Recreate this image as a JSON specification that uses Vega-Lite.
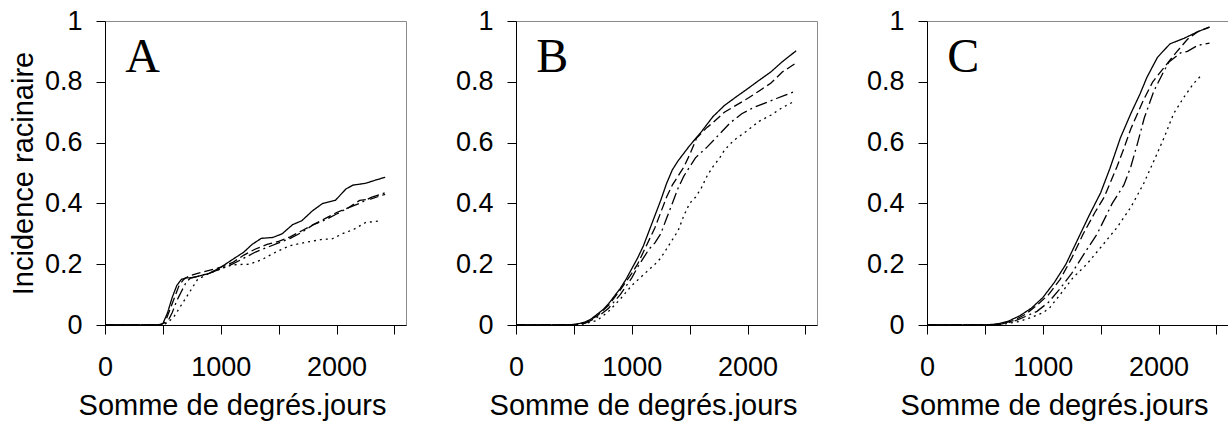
{
  "$schema": "https://vega.github.io/schema/vega-lite/v6.json",
  "background": "white",
  "padding": {"left": 8, "top": 6, "right": 0, "bottom": 0},
  "spacing": 47,
  "config": {
    "view": {"stroke": "#8a8a8a", "strokeWidth": 1},
    "axis": {"grid": false, "domainColor": "black", "domainWidth": 1, "tickColor": "black", "tickSize": 9, "tickWidth": 1,
      "labelFont": "Liberation Sans", "labelFontSize": 27, "labelColor": "black",
      "titleFont": "Liberation Sans", "titleFontSize": 29, "titleFontWeight": "normal", "titleColor": "black"},
    "axisX": {"labelPadding": 20, "labelFlush": false},
    "axisY": {"labelPadding": 14}
  },
  "datasets": {
    "letters": [{"panel": "A"}, {"panel": "B"}, {"panel": "C"}],
    "curves": [
      {"panel":"A","series":"s1","x":0,"y":0},{"panel":"A","series":"s1","x":450,"y":0},{"panel":"A","series":"s1","x":500,"y":0.005},{"panel":"A","series":"s1","x":540,"y":0.04},{"panel":"A","series":"s1","x":580,"y":0.09},{"panel":"A","series":"s1","x":620,"y":0.13},{"panel":"A","series":"s1","x":660,"y":0.15},{"panel":"A","series":"s1","x":700,"y":0.155},{"panel":"A","series":"s1","x":750,"y":0.155},{"panel":"A","series":"s1","x":800,"y":0.16},{"panel":"A","series":"s1","x":900,"y":0.17},{"panel":"A","series":"s1","x":1000,"y":0.19},{"panel":"A","series":"s1","x":1100,"y":0.215},{"panel":"A","series":"s1","x":1200,"y":0.24},{"panel":"A","series":"s1","x":1270,"y":0.265},{"panel":"A","series":"s1","x":1350,"y":0.285},{"panel":"A","series":"s1","x":1450,"y":0.288},{"panel":"A","series":"s1","x":1530,"y":0.3},{"panel":"A","series":"s1","x":1620,"y":0.33},{"panel":"A","series":"s1","x":1700,"y":0.343},{"panel":"A","series":"s1","x":1790,"y":0.375},{"panel":"A","series":"s1","x":1880,"y":0.4},{"panel":"A","series":"s1","x":1990,"y":0.41},{"panel":"A","series":"s1","x":2080,"y":0.447},{"panel":"A","series":"s1","x":2140,"y":0.46},{"panel":"A","series":"s1","x":2250,"y":0.466},{"panel":"A","series":"s1","x":2340,"y":0.477},{"panel":"A","series":"s1","x":2420,"y":0.486},
      {"panel":"A","series":"s2","x":0,"y":0},{"panel":"A","series":"s2","x":480,"y":0},{"panel":"A","series":"s2","x":520,"y":0.01},{"panel":"A","series":"s2","x":560,"y":0.05},{"panel":"A","series":"s2","x":600,"y":0.09},{"panel":"A","series":"s2","x":640,"y":0.13},{"panel":"A","series":"s2","x":680,"y":0.15},{"panel":"A","series":"s2","x":720,"y":0.16},{"panel":"A","series":"s2","x":800,"y":0.17},{"panel":"A","series":"s2","x":900,"y":0.18},{"panel":"A","series":"s2","x":1000,"y":0.19},{"panel":"A","series":"s2","x":1100,"y":0.205},{"panel":"A","series":"s2","x":1200,"y":0.23},{"panel":"A","series":"s2","x":1300,"y":0.25},{"panel":"A","series":"s2","x":1400,"y":0.265},{"panel":"A","series":"s2","x":1500,"y":0.275},{"panel":"A","series":"s2","x":1600,"y":0.29},{"panel":"A","series":"s2","x":1700,"y":0.31},{"panel":"A","series":"s2","x":1800,"y":0.33},{"panel":"A","series":"s2","x":1900,"y":0.35},{"panel":"A","series":"s2","x":2000,"y":0.37},{"panel":"A","series":"s2","x":2100,"y":0.385},{"panel":"A","series":"s2","x":2200,"y":0.41},{"panel":"A","series":"s2","x":2300,"y":0.415},{"panel":"A","series":"s2","x":2420,"y":0.43},
      {"panel":"A","series":"s3","x":0,"y":0},{"panel":"A","series":"s3","x":490,"y":0},{"panel":"A","series":"s3","x":540,"y":0.01},{"panel":"A","series":"s3","x":580,"y":0.04},{"panel":"A","series":"s3","x":620,"y":0.08},{"panel":"A","series":"s3","x":660,"y":0.11},{"panel":"A","series":"s3","x":700,"y":0.14},{"panel":"A","series":"s3","x":740,"y":0.155},{"panel":"A","series":"s3","x":800,"y":0.16},{"panel":"A","series":"s3","x":900,"y":0.17},{"panel":"A","series":"s3","x":1000,"y":0.185},{"panel":"A","series":"s3","x":1100,"y":0.2},{"panel":"A","series":"s3","x":1200,"y":0.22},{"panel":"A","series":"s3","x":1300,"y":0.24},{"panel":"A","series":"s3","x":1400,"y":0.255},{"panel":"A","series":"s3","x":1500,"y":0.27},{"panel":"A","series":"s3","x":1600,"y":0.285},{"panel":"A","series":"s3","x":1700,"y":0.305},{"panel":"A","series":"s3","x":1800,"y":0.33},{"panel":"A","series":"s3","x":1900,"y":0.345},{"panel":"A","series":"s3","x":2000,"y":0.365},{"panel":"A","series":"s3","x":2100,"y":0.385},{"panel":"A","series":"s3","x":2200,"y":0.4},{"panel":"A","series":"s3","x":2300,"y":0.42},{"panel":"A","series":"s3","x":2420,"y":0.435},
      {"panel":"A","series":"s4","x":0,"y":0},{"panel":"A","series":"s4","x":500,"y":0},{"panel":"A","series":"s4","x":550,"y":0.01},{"panel":"A","series":"s4","x":600,"y":0.03},{"panel":"A","series":"s4","x":650,"y":0.06},{"panel":"A","series":"s4","x":700,"y":0.09},{"panel":"A","series":"s4","x":750,"y":0.12},{"panel":"A","series":"s4","x":800,"y":0.15},{"panel":"A","series":"s4","x":850,"y":0.16},{"panel":"A","series":"s4","x":900,"y":0.17},{"panel":"A","series":"s4","x":1000,"y":0.185},{"panel":"A","series":"s4","x":1100,"y":0.198},{"panel":"A","series":"s4","x":1250,"y":0.2},{"panel":"A","series":"s4","x":1360,"y":0.216},{"panel":"A","series":"s4","x":1450,"y":0.235},{"panel":"A","series":"s4","x":1590,"y":0.26},{"panel":"A","series":"s4","x":1680,"y":0.268},{"panel":"A","series":"s4","x":1880,"y":0.282},{"panel":"A","series":"s4","x":1960,"y":0.283},{"panel":"A","series":"s4","x":2050,"y":0.3},{"panel":"A","series":"s4","x":2150,"y":0.315},{"panel":"A","series":"s4","x":2250,"y":0.337},{"panel":"A","series":"s4","x":2380,"y":0.343},
      {"panel":"B","series":"s1","x":0,"y":0},{"panel":"B","series":"s1","x":450,"y":0},{"panel":"B","series":"s1","x":500,"y":0.002},{"panel":"B","series":"s1","x":550,"y":0.005},{"panel":"B","series":"s1","x":600,"y":0.01},{"panel":"B","series":"s1","x":650,"y":0.02},{"panel":"B","series":"s1","x":700,"y":0.035},{"panel":"B","series":"s1","x":750,"y":0.05},{"panel":"B","series":"s1","x":800,"y":0.07},{"panel":"B","series":"s1","x":850,"y":0.095},{"panel":"B","series":"s1","x":900,"y":0.12},{"panel":"B","series":"s1","x":950,"y":0.15},{"panel":"B","series":"s1","x":1000,"y":0.185},{"panel":"B","series":"s1","x":1050,"y":0.22},{"panel":"B","series":"s1","x":1100,"y":0.26},{"panel":"B","series":"s1","x":1150,"y":0.31},{"panel":"B","series":"s1","x":1200,"y":0.36},{"panel":"B","series":"s1","x":1250,"y":0.41},{"panel":"B","series":"s1","x":1300,"y":0.465},{"panel":"B","series":"s1","x":1350,"y":0.51},{"panel":"B","series":"s1","x":1400,"y":0.54},{"panel":"B","series":"s1","x":1450,"y":0.565},{"panel":"B","series":"s1","x":1500,"y":0.59},{"panel":"B","series":"s1","x":1600,"y":0.635},{"panel":"B","series":"s1","x":1700,"y":0.685},{"panel":"B","series":"s1","x":1800,"y":0.722},{"panel":"B","series":"s1","x":1900,"y":0.75},{"panel":"B","series":"s1","x":2000,"y":0.777},{"panel":"B","series":"s1","x":2100,"y":0.805},{"panel":"B","series":"s1","x":2200,"y":0.832},{"panel":"B","series":"s1","x":2300,"y":0.866},{"panel":"B","series":"s1","x":2420,"y":0.902},
      {"panel":"B","series":"s2","x":0,"y":0},{"panel":"B","series":"s2","x":500,"y":0},{"panel":"B","series":"s2","x":600,"y":0.008},{"panel":"B","series":"s2","x":700,"y":0.03},{"panel":"B","series":"s2","x":800,"y":0.065},{"panel":"B","series":"s2","x":900,"y":0.115},{"panel":"B","series":"s2","x":1000,"y":0.17},{"panel":"B","series":"s2","x":1050,"y":0.2},{"panel":"B","series":"s2","x":1100,"y":0.24},{"panel":"B","series":"s2","x":1150,"y":0.28},{"panel":"B","series":"s2","x":1200,"y":0.32},{"panel":"B","series":"s2","x":1250,"y":0.37},{"panel":"B","series":"s2","x":1300,"y":0.42},{"panel":"B","series":"s2","x":1350,"y":0.46},{"panel":"B","series":"s2","x":1400,"y":0.49},{"panel":"B","series":"s2","x":1450,"y":0.52},{"panel":"B","series":"s2","x":1500,"y":0.56},{"panel":"B","series":"s2","x":1560,"y":0.615},{"panel":"B","series":"s2","x":1650,"y":0.65},{"panel":"B","series":"s2","x":1700,"y":0.665},{"panel":"B","series":"s2","x":1800,"y":0.7},{"panel":"B","series":"s2","x":1880,"y":0.718},{"panel":"B","series":"s2","x":2000,"y":0.745},{"panel":"B","series":"s2","x":2100,"y":0.77},{"panel":"B","series":"s2","x":2200,"y":0.795},{"panel":"B","series":"s2","x":2300,"y":0.832},{"panel":"B","series":"s2","x":2420,"y":0.862},
      {"panel":"B","series":"s3","x":0,"y":0},{"panel":"B","series":"s3","x":500,"y":0},{"panel":"B","series":"s3","x":600,"y":0.006},{"panel":"B","series":"s3","x":700,"y":0.025},{"panel":"B","series":"s3","x":800,"y":0.055},{"panel":"B","series":"s3","x":900,"y":0.1},{"panel":"B","series":"s3","x":1000,"y":0.155},{"panel":"B","series":"s3","x":1050,"y":0.19},{"panel":"B","series":"s3","x":1100,"y":0.22},{"panel":"B","series":"s3","x":1150,"y":0.25},{"panel":"B","series":"s3","x":1200,"y":0.27},{"panel":"B","series":"s3","x":1250,"y":0.3},{"panel":"B","series":"s3","x":1300,"y":0.35},{"panel":"B","series":"s3","x":1350,"y":0.4},{"panel":"B","series":"s3","x":1400,"y":0.45},{"panel":"B","series":"s3","x":1450,"y":0.49},{"panel":"B","series":"s3","x":1500,"y":0.52},{"panel":"B","series":"s3","x":1550,"y":0.55},{"panel":"B","series":"s3","x":1650,"y":0.585},{"panel":"B","series":"s3","x":1750,"y":0.625},{"panel":"B","series":"s3","x":1850,"y":0.665},{"panel":"B","series":"s3","x":1950,"y":0.695},{"panel":"B","series":"s3","x":2050,"y":0.715},{"panel":"B","series":"s3","x":2150,"y":0.73},{"panel":"B","series":"s3","x":2250,"y":0.745},{"panel":"B","series":"s3","x":2320,"y":0.755},{"panel":"B","series":"s3","x":2420,"y":0.77},
      {"panel":"B","series":"s4","x":0,"y":0},{"panel":"B","series":"s4","x":520,"y":0},{"panel":"B","series":"s4","x":600,"y":0.005},{"panel":"B","series":"s4","x":700,"y":0.015},{"panel":"B","series":"s4","x":800,"y":0.045},{"panel":"B","series":"s4","x":900,"y":0.085},{"panel":"B","series":"s4","x":1000,"y":0.13},{"panel":"B","series":"s4","x":1100,"y":0.165},{"panel":"B","series":"s4","x":1200,"y":0.2},{"panel":"B","series":"s4","x":1250,"y":0.22},{"panel":"B","series":"s4","x":1300,"y":0.25},{"panel":"B","series":"s4","x":1350,"y":0.28},{"panel":"B","series":"s4","x":1400,"y":0.31},{"panel":"B","series":"s4","x":1450,"y":0.36},{"panel":"B","series":"s4","x":1500,"y":0.4},{"panel":"B","series":"s4","x":1550,"y":0.42},{"panel":"B","series":"s4","x":1600,"y":0.45},{"panel":"B","series":"s4","x":1650,"y":0.49},{"panel":"B","series":"s4","x":1700,"y":0.52},{"panel":"B","series":"s4","x":1760,"y":0.55},{"panel":"B","series":"s4","x":1800,"y":0.575},{"panel":"B","series":"s4","x":1880,"y":0.607},{"panel":"B","series":"s4","x":2000,"y":0.64},{"panel":"B","series":"s4","x":2100,"y":0.67},{"panel":"B","series":"s4","x":2200,"y":0.69},{"panel":"B","series":"s4","x":2300,"y":0.715},{"panel":"B","series":"s4","x":2400,"y":0.735},
      {"panel":"C","series":"s1","x":0,"y":0},{"panel":"C","series":"s1","x":500,"y":0},{"panel":"C","series":"s1","x":600,"y":0.003},{"panel":"C","series":"s1","x":700,"y":0.012},{"panel":"C","series":"s1","x":800,"y":0.03},{"panel":"C","series":"s1","x":900,"y":0.055},{"panel":"C","series":"s1","x":1000,"y":0.09},{"panel":"C","series":"s1","x":1100,"y":0.14},{"panel":"C","series":"s1","x":1200,"y":0.2},{"panel":"C","series":"s1","x":1300,"y":0.28},{"panel":"C","series":"s1","x":1400,"y":0.36},{"panel":"C","series":"s1","x":1500,"y":0.435},{"panel":"C","series":"s1","x":1580,"y":0.515},{"panel":"C","series":"s1","x":1670,"y":0.615},{"panel":"C","series":"s1","x":1760,"y":0.695},{"panel":"C","series":"s1","x":1840,"y":0.76},{"panel":"C","series":"s1","x":1900,"y":0.815},{"panel":"C","series":"s1","x":1990,"y":0.88},{"panel":"C","series":"s1","x":2050,"y":0.905},{"panel":"C","series":"s1","x":2100,"y":0.925},{"panel":"C","series":"s1","x":2220,"y":0.943},{"panel":"C","series":"s1","x":2340,"y":0.965},{"panel":"C","series":"s1","x":2440,"y":0.98},
      {"panel":"C","series":"s2","x":0,"y":0},{"panel":"C","series":"s2","x":550,"y":0},{"panel":"C","series":"s2","x":650,"y":0.005},{"panel":"C","series":"s2","x":750,"y":0.015},{"panel":"C","series":"s2","x":850,"y":0.035},{"panel":"C","series":"s2","x":950,"y":0.065},{"panel":"C","series":"s2","x":1050,"y":0.1},{"panel":"C","series":"s2","x":1150,"y":0.15},{"panel":"C","series":"s2","x":1250,"y":0.22},{"panel":"C","series":"s2","x":1350,"y":0.3},{"panel":"C","series":"s2","x":1450,"y":0.37},{"panel":"C","series":"s2","x":1530,"y":0.42},{"panel":"C","series":"s2","x":1640,"y":0.52},{"panel":"C","series":"s2","x":1700,"y":0.58},{"panel":"C","series":"s2","x":1760,"y":0.645},{"panel":"C","series":"s2","x":1870,"y":0.74},{"panel":"C","series":"s2","x":1950,"y":0.8},{"panel":"C","series":"s2","x":2075,"y":0.86},{"panel":"C","series":"s2","x":2160,"y":0.9},{"panel":"C","series":"s2","x":2250,"y":0.94},{"panel":"C","series":"s2","x":2336,"y":0.964},{"panel":"C","series":"s2","x":2440,"y":0.98},
      {"panel":"C","series":"s3","x":0,"y":0},{"panel":"C","series":"s3","x":550,"y":0},{"panel":"C","series":"s3","x":650,"y":0.004},{"panel":"C","series":"s3","x":750,"y":0.012},{"panel":"C","series":"s3","x":850,"y":0.028},{"panel":"C","series":"s3","x":950,"y":0.045},{"panel":"C","series":"s3","x":1050,"y":0.075},{"panel":"C","series":"s3","x":1150,"y":0.12},{"panel":"C","series":"s3","x":1250,"y":0.17},{"panel":"C","series":"s3","x":1350,"y":0.23},{"panel":"C","series":"s3","x":1470,"y":0.3},{"panel":"C","series":"s3","x":1600,"y":0.4},{"panel":"C","series":"s3","x":1700,"y":0.46},{"panel":"C","series":"s3","x":1760,"y":0.52},{"panel":"C","series":"s3","x":1820,"y":0.6},{"panel":"C","series":"s3","x":1876,"y":0.68},{"panel":"C","series":"s3","x":1960,"y":0.77},{"panel":"C","series":"s3","x":2040,"y":0.83},{"panel":"C","series":"s3","x":2090,"y":0.865},{"panel":"C","series":"s3","x":2190,"y":0.895},{"panel":"C","series":"s3","x":2250,"y":0.9},{"panel":"C","series":"s3","x":2340,"y":0.92},{"panel":"C","series":"s3","x":2440,"y":0.927},
      {"panel":"C","series":"s4","x":0,"y":0},{"panel":"C","series":"s4","x":600,"y":0},{"panel":"C","series":"s4","x":700,"y":0.005},{"panel":"C","series":"s4","x":800,"y":0.012},{"panel":"C","series":"s4","x":900,"y":0.025},{"panel":"C","series":"s4","x":1000,"y":0.04},{"panel":"C","series":"s4","x":1060,"y":0.057},{"panel":"C","series":"s4","x":1150,"y":0.1},{"panel":"C","series":"s4","x":1260,"y":0.155},{"panel":"C","series":"s4","x":1380,"y":0.2},{"panel":"C","series":"s4","x":1500,"y":0.255},{"panel":"C","series":"s4","x":1640,"y":0.32},{"panel":"C","series":"s4","x":1760,"y":0.387},{"panel":"C","series":"s4","x":1870,"y":0.464},{"panel":"C","series":"s4","x":1960,"y":0.54},{"panel":"C","series":"s4","x":2050,"y":0.618},{"panel":"C","series":"s4","x":2130,"y":0.695},{"panel":"C","series":"s4","x":2220,"y":0.75},{"panel":"C","series":"s4","x":2300,"y":0.793},{"panel":"C","series":"s4","x":2380,"y":0.826}
    ]
  },
  "hconcat": [
    {
      "width": 301, "height": 304,
      "layer": [
        {
          "data": {"name": "curves"},
          "transform": [{"filter": "datum.panel == 'A'"}],
          "mark": {"type": "line", "color": "black", "strokeWidth": 1.3},
          "encoding": {
            "x": {"field": "x", "type": "quantitative", "scale": {"domain": [0, 2600], "nice": false, "zero": false},
              "axis": {"title": "Somme de degrés.jours", "values": [0, 500, 1000, 1500, 2000, 2500], "format": "d", "labelExpr": "datum.value % 1000 === 0 ? datum.label : ''", "titleX": 127, "titleY": 89, "titleBaseline": "alphabetic", "titleAlign": "center"}},
            "y": {"field": "y", "type": "quantitative", "scale": {"domain": [0, 1], "nice": false},
              "axis": {"title": "Incidence racinaire", "values": [0, 0.2, 0.4, 0.6, 0.8, 1], "format": "~g", "titleX": -73, "titleY": 152, "titleAngle": 270, "titleBaseline": "alphabetic", "titleAlign": "center"}},
            "strokeDash": {"field": "series", "type": "nominal", "legend": null, "scale": {"domain": ["s1", "s2", "s3", "s4"], "range": [[1, 0], [9, 4], [12, 4, 2, 4], [2, 4]]}}
          }
        },
        {
          "data": {"name": "letters"},
          "transform": [{"filter": "datum.panel == 'A'"}],
          "mark": {"type": "text", "font": "Liberation Serif", "fontSize": 48, "color": "black", "align": "left", "baseline": "alphabetic"},
          "encoding": {
            "x": {"datum": 175, "type": "quantitative"},
            "y": {"datum": 0.832, "type": "quantitative"},
            "text": {"field": "panel"}
          }
        }
      ]
    },
    {
      "width": 301, "height": 304,
      "layer": [
        {
          "data": {"name": "curves"},
          "transform": [{"filter": "datum.panel == 'B'"}],
          "mark": {"type": "line", "color": "black", "strokeWidth": 1.3},
          "encoding": {
            "x": {"field": "x", "type": "quantitative", "scale": {"domain": [0, 2600], "nice": false, "zero": false},
              "axis": {"title": "Somme de degrés.jours", "values": [0, 500, 1000, 1500, 2000, 2500], "format": "d", "labelExpr": "datum.value % 1000 === 0 ? datum.label : ''", "titleX": 127, "titleY": 89, "titleBaseline": "alphabetic", "titleAlign": "center"}},
            "y": {"field": "y", "type": "quantitative", "scale": {"domain": [0, 1], "nice": false},
              "axis": {"title": null, "values": [0, 0.2, 0.4, 0.6, 0.8, 1], "format": "~g"}},
            "strokeDash": {"field": "series", "type": "nominal", "legend": null, "scale": {"domain": ["s1", "s2", "s3", "s4"], "range": [[1, 0], [9, 4], [12, 4, 2, 4], [2, 4]]}}
          }
        },
        {
          "data": {"name": "letters"},
          "transform": [{"filter": "datum.panel == 'B'"}],
          "mark": {"type": "text", "font": "Liberation Serif", "fontSize": 48, "color": "black", "align": "left", "baseline": "alphabetic"},
          "encoding": {
            "x": {"datum": 175, "type": "quantitative"},
            "y": {"datum": 0.832, "type": "quantitative"},
            "text": {"field": "panel"}
          }
        }
      ]
    },
    {
      "width": 301, "height": 304,
      "layer": [
        {
          "data": {"name": "curves"},
          "transform": [{"filter": "datum.panel == 'C'"}],
          "mark": {"type": "line", "color": "black", "strokeWidth": 1.3},
          "encoding": {
            "x": {"field": "x", "type": "quantitative", "scale": {"domain": [0, 2600], "nice": false, "zero": false},
              "axis": {"title": "Somme de degrés.jours", "values": [0, 500, 1000, 1500, 2000, 2500], "format": "d", "labelExpr": "datum.value % 1000 === 0 ? datum.label : ''", "titleX": 127, "titleY": 89, "titleBaseline": "alphabetic", "titleAlign": "center"}},
            "y": {"field": "y", "type": "quantitative", "scale": {"domain": [0, 1], "nice": false},
              "axis": {"title": null, "values": [0, 0.2, 0.4, 0.6, 0.8, 1], "format": "~g"}},
            "strokeDash": {"field": "series", "type": "nominal", "legend": null, "scale": {"domain": ["s1", "s2", "s3", "s4"], "range": [[1, 0], [9, 4], [12, 4, 2, 4], [2, 4]]}}
          }
        },
        {
          "data": {"name": "letters"},
          "transform": [{"filter": "datum.panel == 'C'"}],
          "mark": {"type": "text", "font": "Liberation Serif", "fontSize": 48, "color": "black", "align": "left", "baseline": "alphabetic"},
          "encoding": {
            "x": {"datum": 175, "type": "quantitative"},
            "y": {"datum": 0.832, "type": "quantitative"},
            "text": {"field": "panel"}
          }
        }
      ]
    }
  ]
}
